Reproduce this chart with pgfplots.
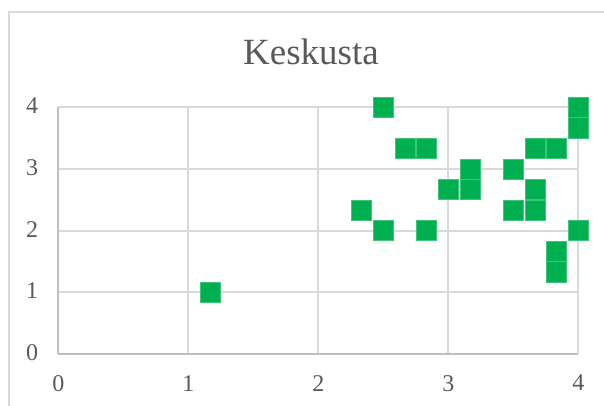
\documentclass[border=0pt]{standalone}
\usepackage{pgfplots}
\pgfplotsset{compat=1.18}
\usepackage{fontspec}
\setmainfont{Liberation Serif}
\definecolor{txt}{HTML}{595959}
\definecolor{grd}{HTML}{D9D9D9}
\definecolor{axl}{HTML}{BFBFBF}
\definecolor{mk}{HTML}{00B050}
\begin{document}
\begin{tikzpicture}[x=1pt,y=1pt]
\useasboundingbox (0,0) rectangle (604,406);
\draw[grd, line width=1.6pt] (9,0) -- (9,393.7) -- (610,393.7);
\node[anchor=base, text=txt, font=\fontsize{37}{37}\selectfont, inner sep=0pt] at (311,341) {Keskusta};
\begin{axis}[
  at={(58.3pt,52pt)}, anchor=south west,
  scale only axis, width=520pt, height=246.7pt,
  xmin=0, xmax=4, ymin=0, ymax=4,
  xtick={0,1,2,3,4}, ytick={0,1,2,3,4},
  grid=major, major grid style={grd, line width=1.8pt},
  axis lines*=left, axis line style={axl, line width=1.8pt},
  major tick length=0pt,
  tick label style={text=txt, font=\fontsize{24}{24}\selectfont},
  /pgf/number format/assume math mode=true,
  xticklabel style={anchor=north, inner sep=0pt, yshift=-21pt},
  yticklabel style={anchor=east, inner sep=0pt, xshift=-20pt, yshift=1.5pt},
  clip=false,
]
\addplot[only marks, mark=square*, mark size=10.1pt,
  mark options={fill=mk, draw=mk!75!white, line width=0.6pt}]
coordinates {
(1.16667,1)
(2.33333,2.33333)
(2.5,2)
(2.5,4)
(2.66667,3.33333)
(2.83333,3.33333)
(2.83333,2)
(3,2.66667)
(3.16667,2.66667)
(3.16667,3)
(3.5,3)
(3.5,2.33333)
(3.66667,2.33333)
(3.66667,2.66667)
(3.66667,3.33333)
(3.83333,3.33333)
(3.83333,1.66667)
(3.83333,1.33333)
(4,2)
(4,3.66667)
(4,4)
};
\end{axis}
\end{tikzpicture}
\end{document}
